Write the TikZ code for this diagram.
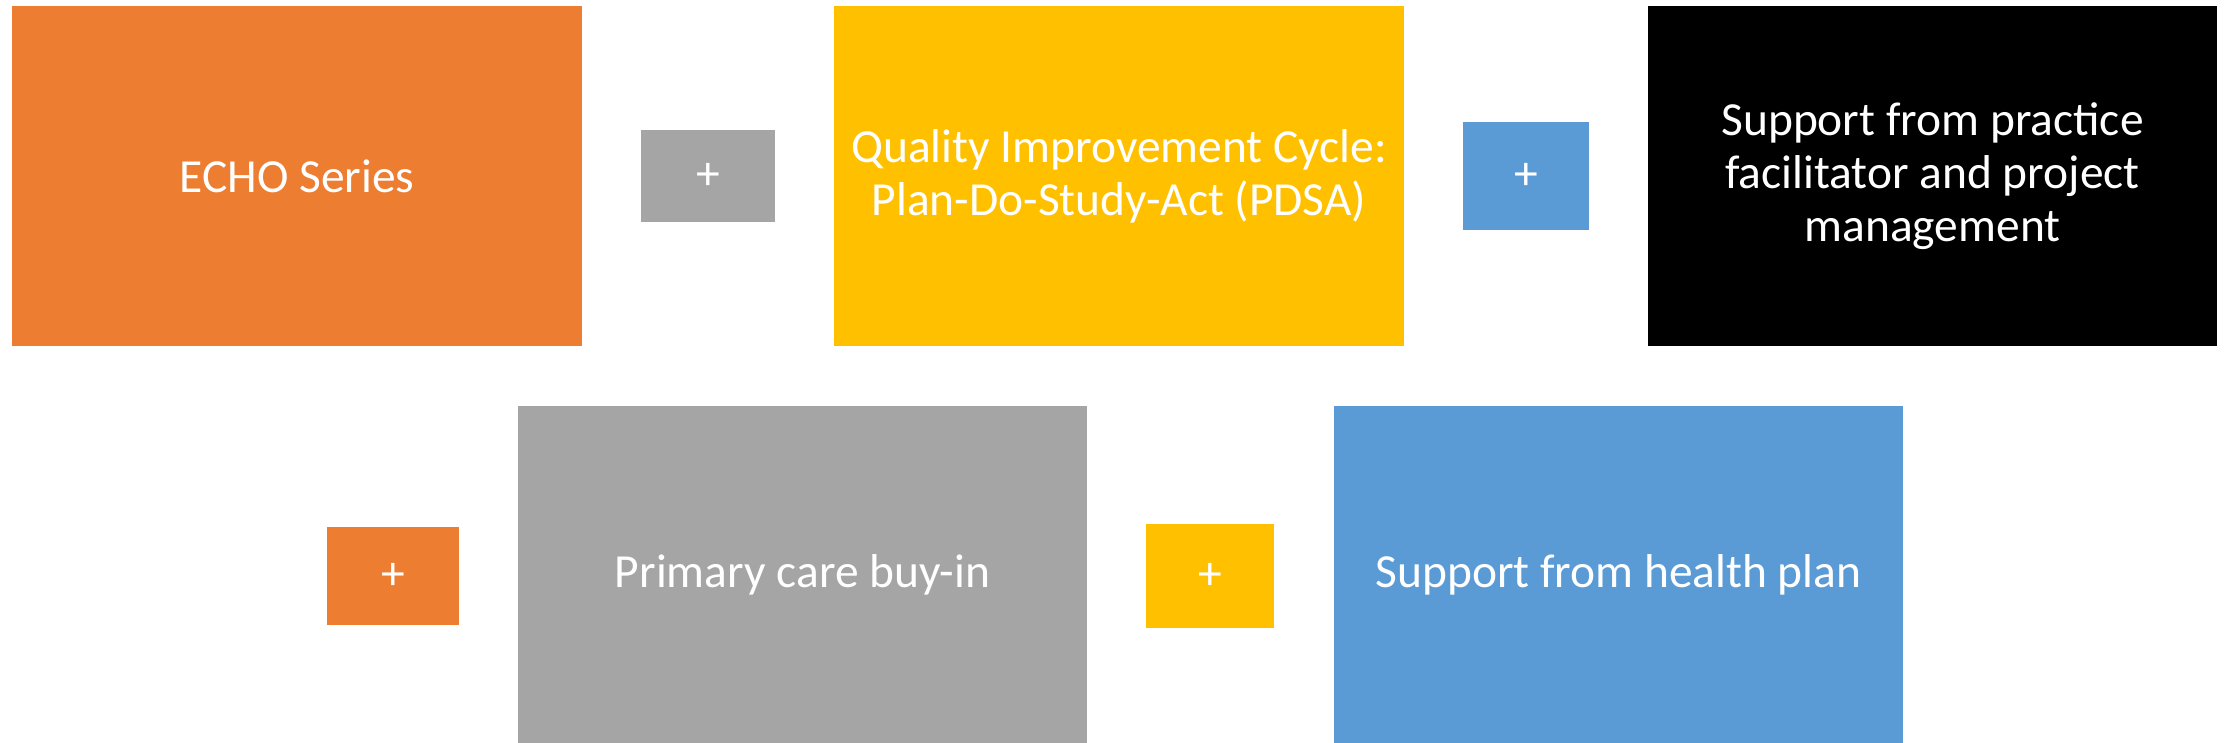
\documentclass[tikz,border=0pt]{standalone}
\usepackage{fontspec}
\setmainfont{Carlito}
\definecolor{orangeC}{HTML}{ED7D31}
\definecolor{yellowC}{HTML}{FFC000}
\definecolor{greyC}{HTML}{A5A5A5}
\definecolor{blueC}{HTML}{5B9BD5}
\begin{document}
\begin{tikzpicture}[x=0.01cm,y=-0.01cm,
  box/.style={rectangle, inner sep=0pt, text=white, align=center, font=\fontsize{13.5}{15.1}\selectfont},
  big/.style={box, minimum width=5.69cm, minimum height=3.40cm},
  bigb/.style={box, minimum width=5.69cm, minimum height=3.37cm},
]
\useasboundingbox (0,0) rectangle (2224,743);
\node[big, fill=orangeC] (echo) at (297,176) {ECHO Series};
\node[box, fill=greyC, minimum width=1.33cm, minimum height=0.92cm] (p1) at (708,176) {+};
\node[big, fill=yellowC] (qi) at (1119,176) {Quality Improvement Cycle:\\Plan-Do-Study-Act (PDSA)};
\node[box, fill=blueC, minimum width=1.26cm, minimum height=1.08cm] (p2) at (1526,176) {+};
\node[big, fill=black] (sup) at (1932.5,176) {Support from practice\\facilitator and project\\management};
\node[box, fill=orangeC, minimum width=1.32cm, minimum height=0.98cm] (p3) at (393,576) {+};
\node[bigb, fill=greyC] (pc) at (802.5,574.5) {Primary care buy-in};
\node[box, fill=yellowC, minimum width=1.27cm, minimum height=1.04cm] (p4) at (1210,576) {+};
\node[bigb, fill=blueC] (hp) at (1618.5,574.5) {Support from health plan};
\end{tikzpicture}
\end{document}
